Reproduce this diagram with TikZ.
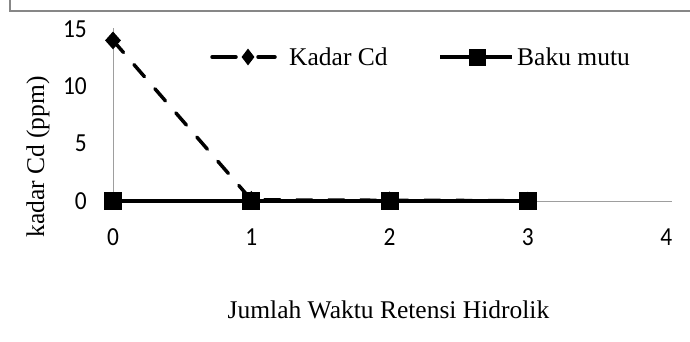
\documentclass[tikz,border=0pt]{standalone}
\usepackage{fontspec}
\setmainfont{Liberation Serif}
\newfontfamily\tickfont[FakeStretch=0.9]{Carlito}
\usepackage{tikz}
\usetikzlibrary{positioning,shapes.geometric}

\begin{document}
\begin{tikzpicture}[x=1pt,y=1pt,
			frame/.style = {draw=black!47, line width=1.5pt},
			axis/.style = {draw=black!38, line width=1pt},
			kadar/.style = {line width=3.5pt, dash pattern=on 16pt off 16pt, line cap=round},
			baku/.style = {line width=4.5pt},
			diamark/.style = {fill=black, shape=diamond, inner sep=0pt, minimum width=16pt, minimum height=18pt},
			sqmark/.style = {fill=black, shape=rectangle, inner sep=0pt, minimum size=18pt},
			ticklbl/.style = {font=\tickfont\fontsize{26}{26}\selectfont, inner sep=0pt},
			lbl/.style = {font=\fontsize{25.5}{26}\selectfont, inner sep=0pt}
			]
			\useasboundingbox (0,0) rectangle (690,341);
			\draw[frame] (10,341) |- (690,330);
			\begin{scope}[shift={(113,140)}, x=138.3pt, y=11.47pt]
				\draw[axis] (0,15.08) -- (0,0) -- (4.04,0);
				\foreach \i in {0,...,4}
					\node [ticklbl, anchor=base] (xt\i) at ([yshift=-44.5pt]\i,0) {\i};
				\foreach \v in {0,5,10,15}
					\node [ticklbl, anchor=east] (yt\v) at ([xshift=-26pt]0,\v) {\v};
				% Kadar Cd
				\coordinate (k0) at (0,14);
				\coordinate (k1) at (1,0.1);
				\coordinate (k2) at (2,0.06);
				\coordinate (k3) at (3,0.03);
				\draw[kadar] (k0) -- (k1) -- (k2) -- (k3);
				\foreach \p in {k0,k1,k2,k3}
					\node [diamark] at (\p) {};
				% Baku mutu
				\coordinate (b0) at (0,0);
				\coordinate (b1) at (1,0);
				\coordinate (b2) at (2,0);
				\coordinate (b3) at (3,0);
				\draw[baku] (b0) -- (b1) -- (b2) -- (b3);
				\foreach \p in {b0,b1,b2,b3}
					\node [sqmark] at (\p) {};
			\end{scope}
			% legenda
			\coordinate (lk1) at (212,284);
			\coordinate (lk2) at (236,284);
			\coordinate (lk3) at (258,284);
			\coordinate (lk4) at (275,284);
			\draw[kadar, dash pattern=] (lk1) -- (lk2);
			\draw[kadar, dash pattern=] (lk3) -- (lk4);
			\node [diamark, minimum width=13pt, minimum height=17pt] (lkm) at (248,284) {};
			\node [lbl, anchor=base west] (lkt) at (289,276) {Kadar Cd};
			\coordinate (lb1) at (440,284);
			\coordinate (lb2) at (512,284);
			\draw[baku] (lb1) -- (lb2);
			\node [sqmark, minimum size=17pt] (lbm) at (477,284) {};
			\node [lbl, anchor=base west] (lbt) at (517,276) {Baku mutu};
			\node [lbl, anchor=base] (xtitle) at (388.5,23) {Jumlah Waktu Retensi Hidrolik};
			\node [lbl, anchor=base, rotate=90] (ytitle) at (44,184) {kadar Cd (ppm)};
		\end{tikzpicture}
\end{document}
